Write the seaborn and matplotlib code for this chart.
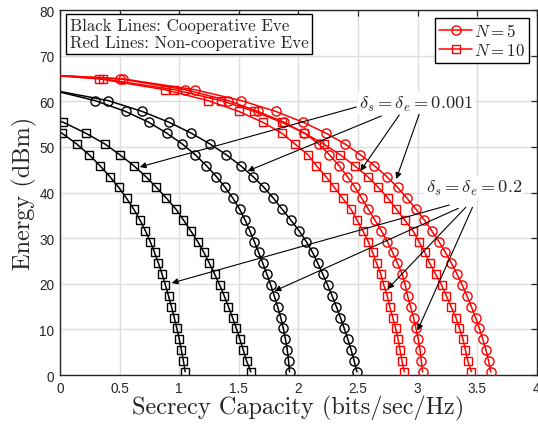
import matplotlib
matplotlib.use("Agg")
import matplotlib.pyplot as plt
from matplotlib.lines import Line2D
import seaborn as sns
import pandas as pd

# ---- data ----
energy_levels = [0.70, 3.08, 5.46, 7.83, 10.21, 12.59, 14.97, 17.35, 19.72, 22.10,
                 24.48, 26.86, 29.24, 31.61, 33.99, 36.37, 38.75, 41.13, 43.50, 45.88,
                 48.26, 50.64, 53.02, 55.39, 57.77, 60.15, 62.53, 64.91, 67.29]

# Cooperative Eve (black)
coop_N10_d02 = [1.050, 1.035, 1.018, 1.000, 0.980, 0.958, 0.935, 0.910, 0.884, 0.856,
                0.826, 0.793, 0.757, 0.716, 0.670, 0.618, 0.558, 0.492, 0.418, 0.335,
                0.245, 0.140, 0.015, -0.20]
coop_N10_d0001 = [1.600, 1.565, 1.537, 1.509, 1.479, 1.447, 1.413, 1.377, 1.339, 1.297,
                  1.253, 1.207, 1.155, 1.096, 1.035, 0.972, 0.893, 0.809, 0.719, 0.619,
                  0.502, 0.377, 0.215, 0.028, -0.22]
coop_N5_d02 = [1.925, 1.917, 1.906, 1.891, 1.873, 1.851, 1.825, 1.797, 1.767, 1.735,
               1.701, 1.666, 1.630, 1.592, 1.552, 1.506, 1.450, 1.385, 1.311, 1.228,
               1.135, 1.025, 0.895, 0.745, 0.550, 0.293, -0.08]
coop_N5_d0001 = [2.490, 2.467, 2.442, 2.414, 2.384, 2.352, 2.318, 2.282, 2.244, 2.204,
                 2.162, 2.118, 2.065, 2.005, 1.935, 1.862, 1.790, 1.710, 1.618, 1.515,
                 1.395, 1.258, 1.100, 0.915, 0.689, 0.404, -0.08]
# Non-cooperative Eve (red)
ncoop_N10_d02 = [2.887, 2.868, 2.852, 2.835, 2.815, 2.790, 2.765, 2.745, 2.715, 2.690,
                 2.655, 2.622, 2.585, 2.540, 2.490, 2.440, 2.370, 2.300, 2.230, 2.150,
                 2.080, 1.970, 1.860, 1.700, 1.500, 1.240, 0.880, 0.330, -0.90]
ncoop_N5_d02 = [3.040, 3.030, 3.020, 3.005, 2.985, 2.965, 2.940, 2.915, 2.895, 2.870,
                2.830, 2.790, 2.745, 2.695, 2.640, 2.585, 2.530, 2.475, 2.410, 2.340,
                2.260, 2.170, 2.050, 1.880, 1.660, 1.410, 1.050, 0.500, -1.20]
ncoop_N10_d0001 = [3.450, 3.420, 3.400, 3.380, 3.350, 3.320, 3.280, 3.240, 3.200, 3.150,
                   3.100, 3.060, 3.010, 2.960, 2.890, 2.820, 2.750, 2.670, 2.580, 2.470,
                   2.350, 2.210, 2.050, 1.860, 1.630, 1.350, 0.960, 0.360, -0.90]
ncoop_N5_d0001 = [3.612, 3.594, 3.572, 3.546, 3.517, 3.485, 3.450, 3.413, 3.373, 3.330,
                  3.283, 3.232, 3.177, 3.118, 3.055, 2.985, 2.910, 2.831, 2.740, 2.636,
                  2.520, 2.390, 2.230, 2.040, 1.810, 1.520, 1.130, 0.530, -1.20]

curves = [
    ("coop", "N10", coop_N10_d02),
    ("coop", "N10", coop_N10_d0001),
    ("coop", "N5", coop_N5_d02),
    ("coop", "N5", coop_N5_d0001),
    ("ncoop", "N10", ncoop_N10_d02),
    ("ncoop", "N5", ncoop_N5_d02),
    ("ncoop", "N10", ncoop_N10_d0001),
    ("ncoop", "N5", ncoop_N5_d0001),
]

x_ticks = [0, 0.5, 1, 1.5, 2, 2.5, 3, 3.5, 4]
x_tick_labels = ["0", "0.5", "1", "1.5", "2", "2.5", "3", "3.5", "4"]
y_ticks = [0, 10, 20, 30, 40, 50, 60, 70, 80]

# annotations: (tail x, tail y) -> (tip x, tip y)
ann_0001_text = (2.987, 59.6)
ann_0001 = [((2.485, 58.74), (0.669, 45.59)),
            ((2.695, 56.77), (1.573, 44.71)),
            ((2.845, 56.99), (2.519, 44.71)),
            ((3.013, 57.21), (2.820, 42.96))]
ann_02_text = (3.473, 41.2)
ann_02 = [((3.264, 37.26), (0.937, 20.16)),
          ((3.341, 36.54), (1.799, 18.41)),
          ((3.403, 36.76), (2.747, 18.85)),
          ((3.459, 36.76), (2.998, 9.72))]

# ---- style ----
sns.set_theme(style="white")
plt.rcParams["font.family"] = ["Liberation Sans", "DejaVu Sans"]
plt.rcParams["mathtext.fontset"] = "cm"

fig = plt.figure(figsize=(5.38, 4.27), dpi=100)
ax = fig.add_axes([0.1115, 0.1194, 0.8866, 0.8548])

color_map = {"coop": "black", "ncoop": "#ff0000"}
marker_map = {"N5": "o", "N10": "s"}
size_map = {"N5": 6.6, "N10": 5.8}

for eve, n, xs in curves:
    df = pd.DataFrame({"cap": xs, "energy": energy_levels[:len(xs)]})
    sns.lineplot(data=df, x="cap", y="energy", sort=False, estimator=None, ax=ax,
                 color=color_map[eve], lw=1.1, marker=marker_map[n],
                 markersize=size_map[n], markerfacecolor="none",
                 markeredgecolor=color_map[eve], markeredgewidth=1.0,
                 zorder=3 if eve == "ncoop" else 2)

ax.set_xlim(0, 4)
ax.set_ylim(0, 80)
ax.set_xticks(x_ticks)
ax.set_xticklabels(x_tick_labels)
ax.set_yticks(y_ticks)
ax.grid(True, color="#dedede", lw=1.0)
ax.set_axisbelow(True)
for s in ax.spines.values():
    s.set_color("#262626")
    s.set_linewidth(1.0)
ax.tick_params(direction="in", length=4.5, width=0.9, color="#262626",
               top=True, right=True, labelsize=9.8, labelcolor="#262626", pad=4)

ax.set_xlabel("Secrecy Capacity (bits/sec/Hz)", family="cmr10", fontsize=17.5,
              color="#262626", labelpad=0)
ax.set_ylabel("Energy (dBm)", family="cmr10", fontsize=17.5, color="#262626", labelpad=2)

# text box
ax.text(0.02, 0.978, "Black Lines: Cooperative Eve\nRed Lines: Non-cooperative Eve",
        transform=ax.transAxes, ha="left", va="top", family="cmr10", fontsize=12.2,
        linespacing=1.1, zorder=6,
        bbox=dict(boxstyle="square,pad=0.22", fc="white", ec="black", lw=1.0))

# legend
handles = [Line2D([], [], color="#ff0000", lw=1.1, marker="o", markersize=6.6,
                  markerfacecolor="none", markeredgewidth=1.0),
           Line2D([], [], color="#ff0000", lw=1.1, marker="s", markersize=5.8,
                  markerfacecolor="none", markeredgewidth=1.0)]
leg = ax.legend(handles, ["$N=5$", "$N=10$"], loc="upper right", fontsize=12.2,
                frameon=True, fancybox=False, edgecolor="black", framealpha=1,
                borderaxespad=0.45, handlelength=1.9, handletextpad=0.15,
                borderpad=0.25, labelspacing=0.2)
leg.get_frame().set_linewidth(1.0)
leg.set_zorder(6)

# annotations
for (tx, ty), (hx, hy) in ann_0001 + ann_02:
    ax.annotate("", xy=(hx, hy), xytext=(tx, ty),
                arrowprops=dict(arrowstyle="-|>", lw=0.8, color="black",
                                mutation_scale=9, shrinkA=0, shrinkB=0),
                zorder=5)
ax.text(*ann_0001_text, r"$\delta_s = \delta_e = 0.001$", ha="center", va="center",
        fontsize=13.2, color="#262626", zorder=6,
        bbox=dict(boxstyle="square,pad=0.08", fc="white", ec="none"))
ax.text(*ann_02_text, r"$\delta_s = \delta_e = 0.2$", ha="center", va="center",
        fontsize=13.2, color="#262626", zorder=6,
        bbox=dict(boxstyle="square,pad=0.08", fc="white", ec="none"))

fig.savefig("out.png", dpi=100)
